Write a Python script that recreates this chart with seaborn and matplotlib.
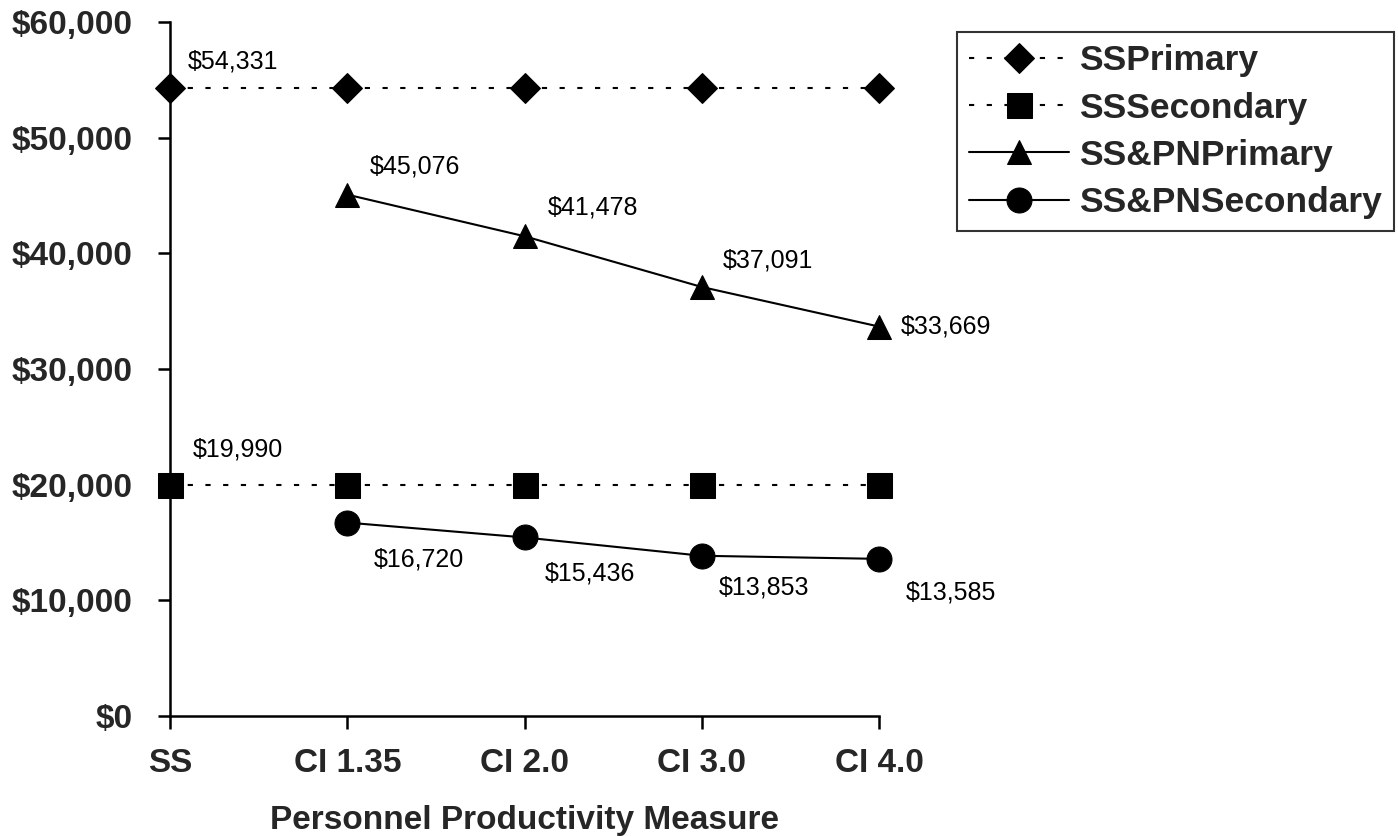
import numpy as np
import pandas as pd
import matplotlib
matplotlib.use("Agg")
import matplotlib.pyplot as plt
from matplotlib.ticker import FuncFormatter
import seaborn as sns

# Categories and series values
measures = ["SS", "CI 1.35", "CI 2.0", "CI 3.0", "CI 4.0"]
ss_primary = [54331, 54331, 54331, 54331, 54331]
ss_secondary = [19990, 19990, 19990, 19990, 19990]
sspn_primary = [np.nan, 45076, 41478, 37091, 33669]
sspn_secondary = [np.nan, 16720, 15436, 13853, 13585]
series_names = ["SSPrimary", "SSSecondary", "SS&PNPrimary", "SS&PNSecondary"]
y_ticks = [0, 10000, 20000, 30000, 40000, 50000, 60000]

sns.set_theme(style="white")
plt.rcParams["font.family"] = ["Liberation Sans", "DejaVu Sans"]

fig = plt.figure(figsize=(13.98, 8.36), dpi=100)
ax = fig.add_axes([170 / 1398, 1 - 716 / 836, (879 - 170) / 1398, (716 - 22) / 836])

pos = np.arange(len(measures))
dotted = (0, (2.5, 6))
styles = [
    dict(marker="D", markersize=15, linestyle=dotted),
    dict(marker="s", markersize=18, linestyle=dotted),
    dict(marker="^", markersize=17, linestyle="-"),
    dict(marker="o", markersize=18, linestyle="-"),
]
all_values = [ss_primary, ss_secondary, sspn_primary, sspn_secondary]

for name, vals, st in zip(series_names, all_values, styles):
    df = pd.DataFrame({"x": pos, "y": vals}).dropna()
    sns.lineplot(data=df, x="x", y="y", ax=ax, color="black", linewidth=1.5,
                 marker=st["marker"], markersize=st["markersize"],
                 markeredgecolor="black", markerfacecolor="black",
                 linestyle=st["linestyle"], label=name, clip_on=False, zorder=3)

# Value labels: (series index, point index, dx px, dy px)
label_spots = [
    (0, 0, 18, 26),
    (1, 0, 23, 35),
    (2, 1, 23, 28), (2, 2, 23, 29), (2, 3, 21, 26), (2, 4, 22, 0),
    (3, 1, 27, -37), (3, 2, 20, -36), (3, 3, 17, -32), (3, 4, 27, -34),
]
for si, pi, dx, dy in label_spots:
    v = all_values[si][pi]
    ax.annotate(f"${v:,.0f}", xy=(pos[pi], v), xytext=(dx, dy),
                textcoords="offset pixels", ha="left", va="center",
                fontsize=18, color="black")

ax.set_xlim(0, len(measures) - 1)
ax.set_ylim(0, 60000)
ax.set_xticks(pos)
ax.set_xticklabels(measures, fontsize=24, fontweight="bold")
ax.set_yticks(y_ticks)
ax.yaxis.set_major_formatter(FuncFormatter(lambda v, p: f"${v:,.0f}"))
for lab in ax.get_yticklabels():
    lab.set_fontsize(24)
    lab.set_fontweight("bold")
ax.tick_params(axis="both", direction="out", length=9, width=1.8, color="black",
               left=True, bottom=True)
ax.tick_params(axis="y", pad=18)
ax.tick_params(axis="x", pad=14)

for side in ["top", "right"]:
    ax.spines[side].set_visible(False)
for side in ["left", "bottom"]:
    ax.spines[side].set_color("black")
    ax.spines[side].set_linewidth(1.8)

ax.set_xlabel("Personnel Productivity Measure", fontsize=24, fontweight="bold", labelpad=19)
ax.set_ylabel("")

leg = ax.legend(loc="upper left", bbox_to_anchor=(957 / 1398, 1 - 32 / 836),
                bbox_transform=fig.transFigure, borderaxespad=0, frameon=True,
                fancybox=False, edgecolor="black", handlelength=2.8,
                handletextpad=0.3, labelspacing=0.4, borderpad=0.35,
                prop=dict(family="Liberation Sans", weight="bold", size=25.5))
leg.get_frame().set_linewidth(1.5)

fig.savefig("out.png", dpi=100, facecolor="white")
